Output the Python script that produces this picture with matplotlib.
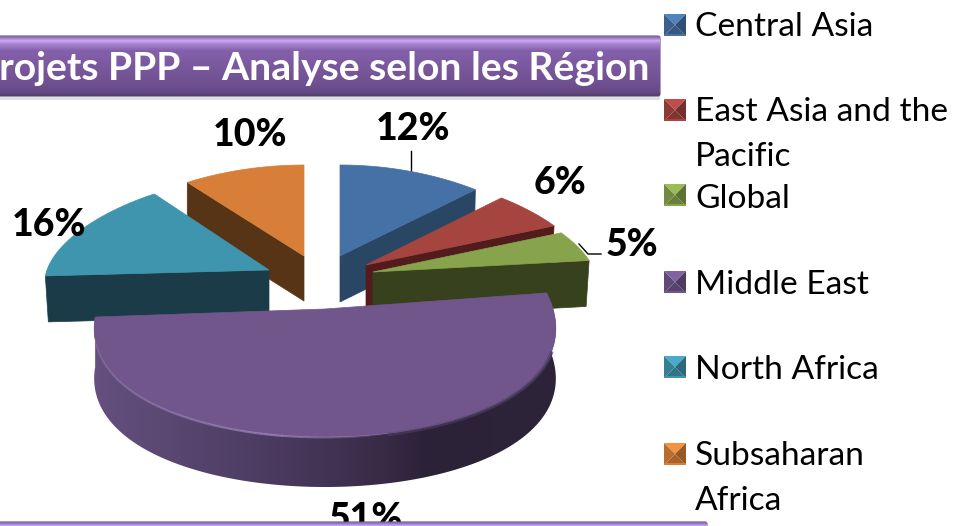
import numpy as np
import matplotlib
matplotlib.use("Agg")
import matplotlib.pyplot as plt
from matplotlib.patches import Polygon, FancyBboxPatch, Rectangle
from matplotlib.colors import LinearSegmentedColormap, to_rgb
from matplotlib.collections import LineCollection

# donnees
regions = ["Central Asia", "East Asia and the\nPacific", "Global", "Middle East",
           "North Africa", "Subsaharan\nAfrica"]
valeurs = [12, 6, 5, 51, 16, 10]
titre = "Projets PPP – Analyse selon les Région"

# couleurs (dessus, cote)
dessus = ["#4571a6", "#a64440", "#87a34b", "#71568c", "#3f95ad", "#d77f38"]
cotes = ["#2a4665", "#521c1c", "#38411d", "#3d2f52", "#1a3b47", "#583417"]

# mise en page : sommet de chaque part, rayons, perspective, epaisseur
sommets = [(340, 256), (366, 265), (373, 272), (325, 309), (269, 270), (304, 256)]
rayons = [(222, 91), (222, 92), (222, 92), (228, 128), (222, 94), (226, 91)]
persp = [0.15, 0.15, 0.15, 0.16, 0.15, 0.15]
epaisseur = [46, 42, 46, 50, 46, 45]
decalage = [-1, -2, -3, 0, 3, 0]
pos_labels = [(413, 126), (560, 180), (632, 242), (366, 516), (49, 222), (250, 132)]
pos_legende = [25, 110, 195, 282, 367, 454]
y_textes = [24, 109, 196, 282, 367, 453]

fig = plt.figure(figsize=(9.58, 5.26), dpi=100)
ax = fig.add_axes([0, 0, 1, 1])
ax.axis("off")

cumul = np.concatenate([[0], np.cumsum(valeurs)]) / sum(valeurs) * 2 * np.pi
i_ordre = {0: 2, 1: 3, 2: 4, 5: 5, 4: 6, 3: 7}


def point(i, t):
    # point du bord de la part i pour l'angle t (sens horaire depuis midi)
    cx, cy = sommets[i]
    rx, ry = rayons[i]
    x = cx + rx * np.sin(t) * (1 - persp[i] * np.cos(t))
    y = cy - ry * np.cos(t)
    return np.column_stack([x, y])


def biseau(i, t0, t1, couleur, a0, a1, lw, dy=0):
    # trait dont l'opacite varie le long de l'arc
    pts = point(i, np.linspace(t0, t1, 120)) + [0, dy]
    segs = np.stack([pts[:-1], pts[1:]], axis=1)
    rgba = np.tile(to_rgb(couleur) + (1.0,), (len(segs), 1))
    rgba[:, 3] = np.linspace(a0, a1, len(segs))
    ax.add_collection(LineCollection(segs, colors=rgba, linewidths=lw, zorder=i_ordre[i] + 0.2))


def dessine_part(i):
    t = np.linspace(cumul[i], cumul[i + 1], 120)
    arc = point(i, t)
    sommet = np.array([sommets[i]], dtype=float)
    h = np.array([0, epaisseur[i]])

    # face radiale visible
    if i in (0, 1, 2):
        bord = point(i, cumul[i + 1:i + 2])
    elif i in (4, 5):
        bord = point(i, cumul[i:i + 1])
    else:
        bord = None
    if bord is not None:
        face = np.vstack([sommet, bord, bord + h + [decalage[i], 0], sommet + h])
        ax.add_patch(Polygon(face, closed=True, fc=cotes[i], ec=cotes[i], lw=0.5, zorder=i_ordre[i]))

    # paroi arrondie de la grande part
    if i == 3:
        tm = np.linspace(cumul[i] + 0.1, cumul[i + 1], 200)
        haut = point(i, tm)
        paroi = Polygon(np.vstack([haut, (haut + h)[::-1]]), closed=True, fc="none", ec="none",
                        zorder=i_ordre[i])
        ax.add_patch(paroi)
        grad = LinearSegmentedColormap.from_list(
            "paroi", [(0, "#65507f"), (0.4, "#4a3a5f"), (0.63, "#382b46"), (0.72, "#2b2238"), (1, "#2d2439")])
        im = ax.imshow(np.linspace(0, 1, 300).reshape(1, -1), extent=(90, 558, 500, 290), cmap=grad,
                       aspect="auto", zorder=i_ordre[i])
        im.set_clip_path(paroi)

    # dessus de la part
    ax.add_patch(Polygon(np.vstack([sommet, arc]), closed=True, fc=dessus[i], ec=dessus[i], lw=0.5,
                         zorder=i_ordre[i] + 0.1))
    if i == 3:
        # biseau le long du bord
        biseau(i, 4.45, 3.3, "#9a82ba", 0.2, 0.85, 1.6, dy=0.5)
        biseau(i, 3.3, 2.9, "#9a82ba", 0.85, 0.1, 1.4, dy=0.5)
        biseau(i, 2.9, 1.9, "#55436c", 0.5, 0.8, 2.5, dy=1)


for i in range(len(valeurs)):
    dessine_part(i)


def bandeau(x0, x1, y0, y1, z):
    # bandeau violet avec degrade vertical
    ax.add_patch(Rectangle((x0, y1), x1 - x0, 4, fc="#000000", alpha=0.12, ec="none", zorder=z - 0.1))
    cadre = FancyBboxPatch((x0, y0), x1 - x0, y1 - y0, boxstyle="round,pad=0,rounding_size=2",
                           fc="none", ec="#6a5390", lw=0.8, zorder=z)
    ax.add_patch(cadre)
    cm = LinearSegmentedColormap.from_list(
        "bandeau", [(0, "#8266a8"), (0.07, "#cba8f2"), (0.13, "#a582cf"), (0.24, "#8460ab"),
                    (0.8, "#6f5090"), (0.94, "#664a85"), (1, "#54406c")])
    im = ax.imshow(np.linspace(0, 1, 60).reshape(-1, 1), extent=(x0, x1, y1, y0), cmap=cm, aspect="auto",
                   zorder=z)
    im.set_clip_path(cadre)


# titre
bandeau(-10, 660, 36, 96, 10)
ax.text(650, 66, titre, color="white", fontsize=28.2, fontweight="bold", family="Lato", ha="right",
        va="center_baseline", zorder=11)

# etiquettes
for i, (x, y) in enumerate(pos_labels):
    ax.text(x, y, f"{valeurs[i]}%", fontsize=27, fontweight=900, family="Lato", color="black",
            ha="center", va="center_baseline", zorder=9)
ax.plot([411, 411], [151, 170], color="black", lw=1, zorder=9)
ax.plot([579, 588, 601], [244, 254, 254], color="black", lw=1, zorder=9)

# bandeau du bas, coupe par le bord de l'image
bandeau(-10, 707, 522, 570, 10)

# legende
for i, nom in enumerate(regions):
    yc = pos_legende[i]
    x0, x1, y0, y1 = 664, 686, yc - 11, yc + 11
    xm, ym = (x0 + x1) / 2, (y0 + y1) / 2
    base = np.array(to_rgb(dessus[i]))
    ax.add_patch(Polygon([(x0, y0), (x1, y0), (xm, ym)], fc=np.clip(base * 1.15, 0, 1), ec="none", zorder=8))
    ax.add_patch(Polygon([(x0, y1), (x1, y1), (xm, ym)], fc=base * 0.78, ec="none", zorder=8))
    ax.add_patch(Polygon([(x0, y0), (x0, y1), (xm, ym)], fc=base * 0.85, ec="none", zorder=8))
    ax.add_patch(Polygon([(x1, y0), (x1, y1), (xm, ym)], fc=base * 0.7, ec="none", zorder=8))
    ax.add_patch(Rectangle((x0, y1 - 2), x1 - x0, 2, fc=base, ec="none", zorder=8.1))
    for k, ligne in enumerate(nom.split("\n")):
        ax.text(695, y_textes[i] + k * 45.5, ligne, fontsize=24.1, family="Lato", color="black", ha="left",
                va="center_baseline", zorder=9)

ax.set_xlim(0, 958)
ax.set_ylim(526, 0)
fig.savefig("out.png", dpi=100, facecolor="white")
plt.close(fig)
